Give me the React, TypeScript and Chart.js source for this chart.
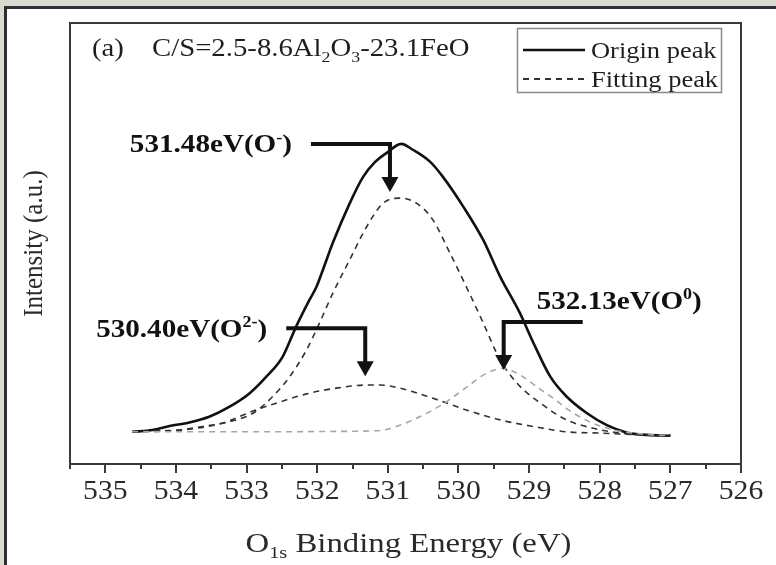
import React, { useEffect, useRef } from "react";
import { Chart, registerables } from "chart.js";

Chart.register(...registerables);

// ---- Data (binding energy in eV, intensity in arbitrary units) ----
const originE = [534.62, 534.33, 534.09, 533.81, 533.53, 533.24, 532.96, 532.72, 532.49, 532.30, 532.11, 532.01, 531.92, 531.78, 531.54, 531.35, 531.18, 531.02, 530.81, 530.64, 530.40, 530.22, 529.93, 529.65, 529.41, 529.13, 528.94, 528.70, 528.47, 528.18, 527.90, 527.61, 527.33, 527.00];
const originI = [7.3, 7.7, 8.6, 9.4, 10.7, 13.0, 16.0, 19.8, 24.3, 31.1, 37.2, 40.2, 44.0, 50.1, 59.1, 65.1, 68.5, 70.5, 72.6, 71.2, 68.5, 65.1, 58.3, 50.8, 42.5, 34.2, 27.5, 19.8, 15.3, 11.5, 8.8, 7.1, 6.6, 6.4];

const oMinusE = [534.62, 534.14, 533.95, 533.62, 533.24, 532.91, 532.63, 532.39, 532.15, 531.97, 531.78, 531.54, 531.30, 531.07, 530.83, 530.59, 530.36, 530.12, 529.88, 529.65, 529.41, 529.17, 528.84, 528.47, 528.09, 527.71, 527.33, 527.00];
const oMinusI = [7.3, 7.5, 7.7, 8.5, 9.6, 11.5, 15.3, 19.8, 25.9, 31.9, 38.7, 46.3, 53.8, 59.1, 60.3, 59.1, 55.3, 47.8, 39.9, 32.0, 23.6, 18.3, 13.8, 10.0, 8.1, 7.0, 6.6, 6.5];

const o2MinusE = [534.62, 534.23, 533.81, 533.34, 532.91, 532.58, 532.15, 531.73, 531.30, 531.11, 530.83, 530.36, 529.88, 529.41, 528.94, 528.47, 527.99, 527.50, 527.00];
const o2MinusI = [7.3, 7.5, 7.9, 9.3, 12.0, 13.8, 15.9, 17.2, 17.9, 17.9, 17.2, 14.9, 12.2, 10.0, 8.5, 7.3, 7.0, 6.7, 6.5];

const o0E = [534.62, 533.67, 532.67, 531.68, 531.11, 530.83, 530.55, 530.17, 529.88, 529.60, 529.37, 529.13, 528.89, 528.66, 528.37, 528.09, 527.80, 527.52, 527.24, 527.00];
const o0I = [7.3, 7.3, 7.3, 7.4, 7.6, 8.8, 10.7, 14.1, 17.5, 20.6, 21.7, 20.2, 17.5, 14.9, 11.5, 9.2, 7.7, 7.0, 6.6, 6.5];

const xMajorTicks = [535, 534, 533, 532, 531, 530, 529, 528, 527, 526];
const xMinorTicks = [535.5, 534.5, 533.5, 532.5, 531.5, 530.5, 529.5, 528.5, 527.5, 526.5];

const panelLabel = "(a)";
const titleSegs = [
  { t: "C/S=2.5-8.6Al" }, { t: "2", sub: true }, { t: "O" }, { t: "3", sub: true }, { t: "-23.1FeO" },
];
const xTitleSegs = [{ t: "O" }, { t: "1s", sub: true }, { t: " Binding Energy (eV)" }];
const yTitle = "Intensity (a.u.)";
const legendLabels = ["Origin peak", "Fitting peak"];

// annotation: peak label, arrow tip at (tipE, tipI)
const annotations = [
  { segs: [{ t: "531.48eV(O" }, { t: "-", sup: true }, { t: ")" }], tipE: 530.97, tipI: 61.7, dir: -1 },
  { segs: [{ t: "530.40eV(O" }, { t: "2-", sup: true }, { t: ")" }], tipE: 531.32, tipI: 19.9, dir: -1 },
  { segs: [{ t: "532.13eV(O" }, { t: "0", sup: true }, { t: ")" }], tipE: 529.36, tipI: 21.3, dir: 1 },
];

const SERIF = '"Liberation Serif", "Times New Roman", serif';

type Seg = { t: string; sub?: boolean; sup?: boolean };

function richWidth(ctx: CanvasRenderingContext2D, segs: Seg[], size: number, weight: string, sx: number) {
  let w = 0;
  for (const s of segs) {
    const fs = s.sub || s.sup ? size * 0.62 : size;
    ctx.font = `${weight} ${fs}px ${SERIF}`;
    w += ctx.measureText(s.t).width * sx;
  }
  return w;
}

function drawRich(ctx: CanvasRenderingContext2D, segs: Seg[], x: number, y: number, size: number, weight: string, sx: number, align: "left" | "center" | "right") {
  const total = richWidth(ctx, segs, size, weight, sx);
  let cx = align === "left" ? x : align === "center" ? x - total / 2 : x - total;
  ctx.save();
  ctx.textBaseline = "alphabetic";
  ctx.textAlign = "left";
  const base = y + size * 0.33;
  for (const s of segs) {
    const fs = s.sub || s.sup ? size * 0.62 : size;
    ctx.font = `${weight} ${fs}px ${SERIF}`;
    const w = ctx.measureText(s.t).width * sx;
    const yy = s.sub ? base + size * 0.22 : s.sup ? base - size * 0.38 : base;
    ctx.save();
    ctx.translate(cx, yy);
    ctx.scale(sx, 1);
    ctx.fillText(s.t, 0, 0);
    ctx.restore();
    cx += w;
  }
  ctx.restore();
  return total;
}

const decor = {
  id: "decor",
  beforeDraw(chart: any) {
    const ctx = chart.ctx as CanvasRenderingContext2D;
    ctx.save();
    ctx.fillStyle = "#dcdad0";
    ctx.fillRect(0, 0, 776, 565);
    ctx.fillStyle = "#ffffff";
    ctx.fillRect(4, 6, 772, 559);
    ctx.fillStyle = "#2b2f36";
    ctx.fillRect(4, 6, 3, 559);
    ctx.fillRect(4, 6, 772, 3);
    ctx.restore();
  },
  afterDraw(chart: any) {
    const ctx = chart.ctx as CanvasRenderingContext2D;
    const xs = chart.scales.x;
    const ys = chart.scales.y;
    const a = chart.chartArea;
    ctx.save();
    // frame
    ctx.strokeStyle = "#3a3a3a";
    ctx.lineWidth = 2;
    ctx.strokeRect(a.left, a.top, a.right - a.left, a.bottom - a.top);
    // ticks
    ctx.beginPath();
    for (const v of xMajorTicks) {
      const px = Math.round(xs.getPixelForValue(v));
      ctx.moveTo(px, a.bottom);
      ctx.lineTo(px, a.bottom + 9);
    }
    for (const v of xMinorTicks) {
      const px = Math.round(xs.getPixelForValue(v));
      ctx.moveTo(px, a.bottom);
      ctx.lineTo(px, a.bottom + 5);
    }
    ctx.stroke();
    // tick labels
    ctx.fillStyle = "#2a2a2a";
    for (const v of xMajorTicks) {
      const px = xs.getPixelForValue(v);
      drawRich(ctx, [{ t: String(v) }], px, a.bottom + 26, 27, "normal", 1.1, "center");
    }
    // x title
    drawRich(ctx, xTitleSegs, (a.left + a.right) / 2 + 3, 543, 28, "normal", 1.17, "center");
    // y title
    ctx.save();
    ctx.translate(33, (a.top + a.bottom) / 2);
    ctx.rotate(-Math.PI / 2);
    ctx.scale(1, 1.12);
    drawRich(ctx, [{ t: yTitle }], 0, 0, 25, "normal", 1.0, "center");
    ctx.restore();
    // panel title
    ctx.fillStyle = "#1e1e1e";
    drawRich(ctx, [{ t: panelLabel }], 92, 48, 25, "normal", 1.15, "left");
    drawRich(ctx, titleSegs, 152, 48, 25, "normal", 1.15, "left");
    // legend
    ctx.strokeStyle = "#8a8a8a";
    ctx.lineWidth = 1.5;
    ctx.strokeRect(517.5, 28.5, 204, 64);
    ctx.strokeStyle = "#111";
    ctx.lineWidth = 2.5;
    ctx.beginPath();
    ctx.moveTo(523, 50);
    ctx.lineTo(585, 50);
    ctx.stroke();
    ctx.lineWidth = 1.8;
    ctx.strokeStyle = "#333";
    ctx.setLineDash([6, 5]);
    ctx.beginPath();
    ctx.moveTo(523, 79);
    ctx.lineTo(585, 79);
    ctx.stroke();
    ctx.setLineDash([]);
    drawRich(ctx, [{ t: legendLabels[0] }], 591, 50, 23, "normal", 1.15, "left");
    drawRich(ctx, [{ t: legendLabels[1] }], 591, 79, 23, "normal", 1.15, "left");
    // annotations
    ctx.fillStyle = "#111";
    ctx.strokeStyle = "#111";
    for (const an of annotations) {
      const tx = xs.getPixelForValue(an.tipE);
      const ty = ys.getPixelForValue(an.tipI);
      const elbowY = ty - 48;
      const endX = tx + an.dir * 79;
      ctx.lineWidth = 4;
      ctx.beginPath();
      ctx.moveTo(endX, elbowY);
      ctx.lineTo(tx, elbowY);
      ctx.lineTo(tx, ty - 12);
      ctx.stroke();
      ctx.beginPath();
      ctx.moveTo(tx - 8.5, ty - 15);
      ctx.lineTo(tx + 8.5, ty - 15);
      ctx.lineTo(tx, ty);
      ctx.closePath();
      ctx.fill();
      if (an.dir < 0) {
        drawRich(ctx, an.segs, endX - 19, elbowY, 26, "bold", 1.12, "right");
      } else {
        drawRich(ctx, an.segs, tx + 33, elbowY - 22, 26, "bold", 1.12, "left");
      }
    }
    ctx.restore();
  },
};

function pts(e: number[], v: number[]) {
  return e.map((x, i) => ({ x, y: v[i] }));
}

export default function App() {
  const ref = useRef<HTMLCanvasElement | null>(null);
  useEffect(() => {
    document.body.style.margin = "0";
    const canvas = ref.current!;
    const dashed = {
      borderWidth: 1.6,
      borderDash: [6, 5],
      pointRadius: 0,
      fill: false,
      cubicInterpolationMode: "monotone" as const,
    };
    const chart = new Chart(canvas, {
      type: "line",
      data: {
        datasets: [
          { label: "O0", data: pts(o0E, o0I), borderColor: "#a6a6a6", ...dashed },
          { label: "O2-", data: pts(o2MinusE, o2MinusI), borderColor: "#333333", ...dashed },
          { label: "O-", data: pts(oMinusE, oMinusI), borderColor: "#333333", ...dashed },
          {
            label: "Origin",
            data: pts(originE, originI),
            borderColor: "#111111",
            borderWidth: 2.6,
            pointRadius: 0,
            fill: false,
            cubicInterpolationMode: "monotone",
          },
        ],
      },
      options: {
        responsive: false,
        animation: false,
        events: [],
        layout: { padding: { left: 70, right: 35, top: 23, bottom: 101 } },
        plugins: { legend: { display: false }, tooltip: { enabled: false }, title: { display: false } },
        scales: {
          x: { type: "linear", min: 526, max: 535.5, reverse: true, display: false },
          y: { type: "linear", min: 0, max: 100, display: false },
        },
      },
      plugins: [decor],
    });
    return () => chart.destroy();
  }, []);
  return (
    <div style={{ position: "absolute", left: 0, top: 0, width: 776, height: 565 }}>
      <canvas ref={ref} width={776} height={565} style={{ display: "block" }} />
    </div>
  );
}
